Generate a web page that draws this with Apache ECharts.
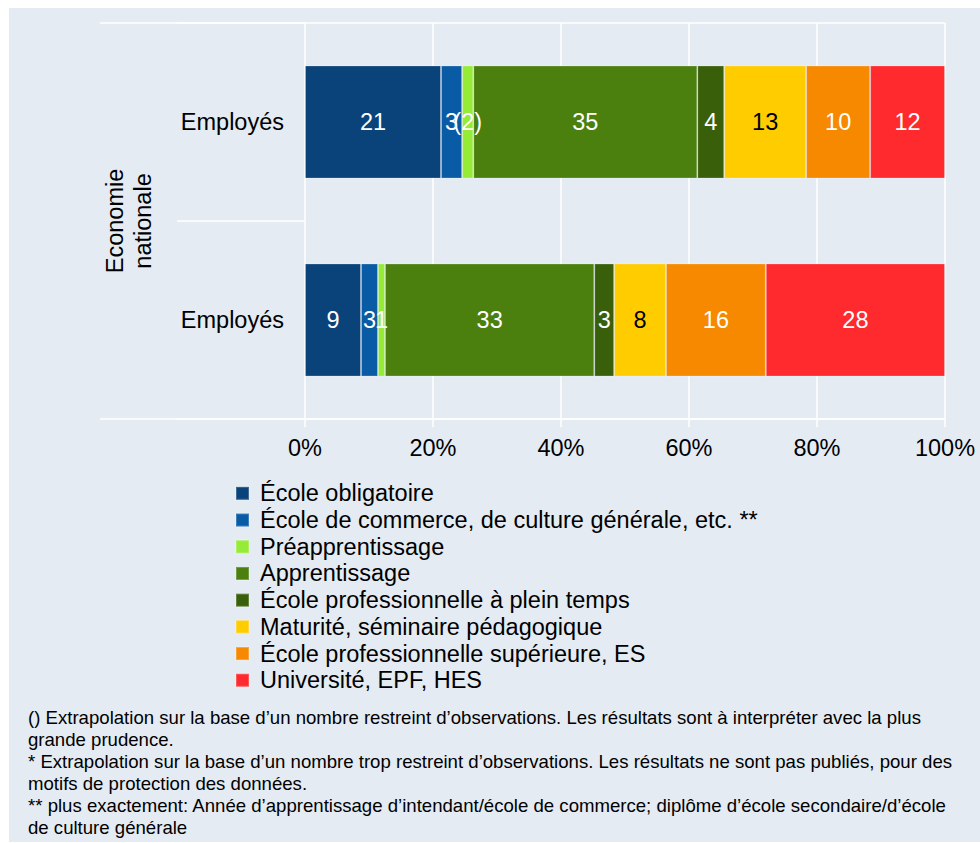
<!DOCTYPE html>
<html>
<head>
<meta charset="utf-8">
<script src="https://cdn.jsdelivr.net/npm/echarts@6/dist/echarts.min.js"></script>
<style>
  html, body { margin: 0; padding: 0; background: #ffffff; }
  #bg { position: absolute; left: 9px; top: 8px; width: 971px; height: 834px; background: #E4EBF3; }
  #chart { position: absolute; left: 0; top: 0; width: 980px; height: 843px; }
</style>
</head>
<body>
<div id="bg"></div>
<div id="chart"></div>
<script>
// ---- Data ----
const categories = ['Employés', 'Employés'];
const groupLabel = 'Economie\nnationale';
const seriesNames = [
  'École obligatoire',
  'École de commerce, de culture générale, etc. **',
  'Préapprentissage',
  'Apprentissage',
  'École professionnelle à plein temps',
  'Maturité, séminaire pédagogique',
  'École professionnelle supérieure, ES',
  'Université, EPF, HES'
];
const ecoleObligatoire   = [21.25, 8.75];
const ecoleCommerce      = [3.3, 2.65];
const preapprentissage   = [1.75, 1.1];
const apprentissage      = [35.0, 32.7];
const ecoleProfPlein     = [4.2, 3.1];
const maturite           = [12.8, 8.1];
const ecoleProfSup       = [10.0, 15.6];
const universite         = [11.7, 28.0];

const lblObligatoire     = ['21', '9'];
const lblCommerce        = ['3', '3'];
const lblPreapp          = ['(2)', '1'];
const lblApprent         = ['35', '33'];
const lblProfPlein       = ['4', '3'];
const lblMaturite        = ['13', '8'];
const lblProfSup         = ['10', '16'];
const lblUniversite      = ['12', '28'];

const xTicks = [0, 20, 40, 60, 80, 100];
const footnotes = [
  '() Extrapolation sur la base d\u2019un nombre restreint d\u2019observations. Les résultats sont à interpréter avec la plus',
  'grande prudence.',
  '* Extrapolation sur la base d\u2019un nombre trop restreint d\u2019observations. Les résultats ne sont pas publiés, pour des',
  'motifs de protection des données.',
  '** plus exactement: Année d\u2019apprentissage d\u2019intendant/école de commerce; diplôme d\u2019école secondaire/d\u2019école',
  'de culture générale'
];

// ---- Styles ----
const colors = ['#09437A', '#0A5BA6', '#95EB35', '#4C800E', '#3A5F0B', '#FFCC00', '#F68900', '#FF2A2D'];
const labelColors = ['#fff', '#fff', '#fff', '#fff', '#fff', '#000', '#fff', '#fff'];
const FONT = '"Liberation Sans", Arial, sans-serif';
const FS = 23.5;
const G = { left: 305, right: 945, top: 23, bottom: 419 };

const values = [ecoleObligatoire, ecoleCommerce, preapprentissage, apprentissage, ecoleProfPlein, maturite, ecoleProfSup, universite];
const labels = [lblObligatoire, lblCommerce, lblPreapp, lblApprent, lblProfPlein, lblMaturite, lblProfSup, lblUniversite];

const chart = echarts.init(document.getElementById('chart'), null, { renderer: 'svg' });

const series = seriesNames.map((name, i) => ({
  name: name,
  type: 'bar',
  stack: 'total',
  barWidth: 113,
  data: values[i],
  itemStyle: { color: colors[i], borderColor: 'rgba(255,255,255,0.22)', borderWidth: 1 },
  label: {
    show: true,
    position: 'inside',
    fontFamily: FONT,
    fontSize: FS,
    color: labelColors[i],
    textBorderWidth: 0,
    formatter: p => labels[i][p.dataIndex]
  },
  labelLayout: { hideOverlap: false },
  emphasis: { disabled: true }
}));

const lineStyle = { stroke: '#ffffff', lineWidth: 1.5 };

chart.setOption({
  backgroundColor: 'transparent',
  animation: false,
  textStyle: { fontFamily: FONT },
  grid: { left: G.left, right: 980 - G.right, top: G.top, bottom: 843 - G.bottom, containLabel: false, outerBoundsMode: 'none' },
  xAxis: {
    type: 'value',
    min: 0, max: 100, interval: 20,
    axisLine: { show: true, lineStyle: { color: '#ffffff', width: 1.5 } },
    axisTick: { show: true, length: 8, lineStyle: { color: '#ffffff', width: 1.5 } },
    splitLine: { show: true, lineStyle: { color: '#ffffff', width: 1.5 } },
    axisLabel: { fontFamily: FONT, fontSize: FS, color: '#000', margin: 17, formatter: '{value}%' }
  },
  yAxis: {
    type: 'category',
    data: categories,
    inverse: true,
    axisLine: { show: false },
    axisTick: { show: true, length: G.left - 177, interval: 0, lineStyle: { color: '#ffffff', width: 1.5 } },
    splitLine: { show: false },
    axisLabel: { fontFamily: FONT, fontSize: FS, color: '#000', margin: 21 }
  },
  legend: {
    orient: 'vertical',
    left: 230,
    top: 475,
    icon: 'rect',
    itemWidth: 13,
    itemHeight: 13,
    itemGap: 0,
    selectedMode: false,
    textStyle: { fontFamily: FONT, fontSize: FS, color: '#000', lineHeight: 26.7, padding: [0, 0, 0, 6] },
    data: seriesNames
  },
  graphic: [
    { type: 'line', shape: { x1: 100, y1: G.top, x2: G.right, y2: G.top }, style: lineStyle, silent: true },
    { type: 'line', shape: { x1: 100, y1: G.bottom, x2: G.right, y2: G.bottom }, style: lineStyle, silent: true },
    {
      type: 'text', x: 129, y: (G.top + G.bottom) / 2, rotation: Math.PI / 2, silent: true,
      style: { text: groupLabel, font: FS + 'px ' + FONT, fill: '#000', lineHeight: 28, align: 'center', verticalAlign: 'middle' }
    },
    {
      type: 'text', x: 28, y: 706, silent: true,
      style: { text: footnotes.join('\n'), font: '18.6px ' + FONT, fill: '#000', lineHeight: 22, align: 'left', verticalAlign: 'top' }
    }
  ],
  series: series
});
</script>
</body>
</html>
